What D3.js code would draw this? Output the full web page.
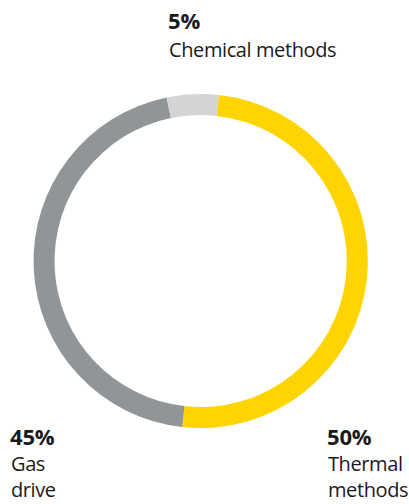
<!DOCTYPE html>
<html>
<head>
<meta charset="utf-8">
<script src="https://cdn.jsdelivr.net/npm/d3@7"></script>
<style>
  html, body { margin: 0; padding: 0; background: #fff; }
  svg { display: block; }
  text { font-family: "Open Sans", "Noto Sans", sans-serif; fill: #1a1a1a; }
</style>
</head>
<body>
<svg id="chart" width="409" height="504"></svg>
<script>
const categories = ["Thermal methods", "Gas drive", "Chemical methods"];
const values = [50, 45, 5];
const valueLabels = ["50%", "45%", "5%"];
const colors = ["#FFD400", "#919598", "#D3D4D6"];

const W = 409, H = 504;
const cx = 200.5, cy = 261, outerR = 167, innerR = 146;
const startOffset = 6.3 * Math.PI / 180;

const svg = d3.select("#chart");

const pie = d3.pie().sort(null).value(d => d)
  .startAngle(startOffset).endAngle(startOffset + 2 * Math.PI);
const arc = d3.arc().innerRadius(innerR).outerRadius(outerR);

const g = svg.append("g").attr("transform", `translate(${cx},${cy})`);
g.selectAll("path").data(pie(values)).join("path")
  .attr("d", arc)
  .attr("fill", (d, i) => colors[i]);

// label anchors: x, baseline of value line, baselines of name lines
const labelPos = [
  { x: 327, y: 445, lines: [471, 497] },  // Thermal
  { x: 10, y: 445, lines: [471, 497] },   // Gas
  { x: 168, y: 29, lines: [57] }          // Chemical
];
const labelLines = [["Thermal", "methods"], ["Gas", "drive"], ["Chemical methods"]];

categories.forEach((c, i) => {
  const p = labelPos[i];
  const t = svg.append("g");
  t.append("text")
    .attr("x", p.x).attr("y", p.y)
    .style("font-size", "22px").style("font-weight", "700")
    .style("letter-spacing", "-0.2px")
    .text(valueLabels[i]);
  labelLines[i].forEach((ln, j) => {
    t.append("text")
      .attr("x", p.x + 1).attr("y", p.lines[j])
      .style("font-size", "20px").style("font-weight", "400")
      .style("letter-spacing", "-0.4px")
      .text(ln);
  });
});
</script>
</body>
</html>
